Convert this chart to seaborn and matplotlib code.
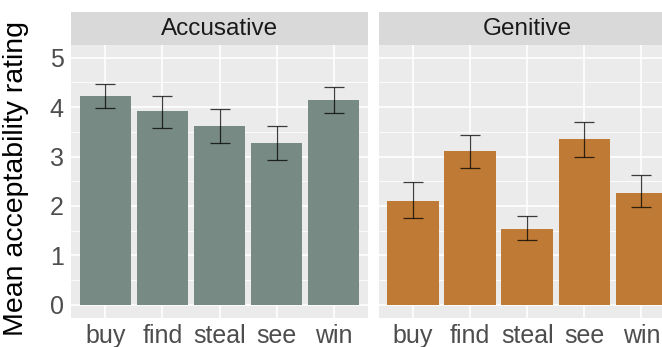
import matplotlib
matplotlib.use("Agg")
import matplotlib.pyplot as plt
from matplotlib.ticker import MultipleLocator
import seaborn as sns
import pandas as pd

# Mean ratings and error-bar limits per verb and case
verbs = ["buy", "find", "steal", "see", "win"]
acc_mean = [4.23, 3.92, 3.62, 3.27, 4.14]
acc_low = [3.99, 3.58, 3.28, 2.92, 3.87]
acc_high = [4.46, 4.23, 3.95, 3.62, 4.40]
gen_mean = [2.11, 3.11, 1.53, 3.35, 2.27]
gen_low = [1.75, 2.76, 1.31, 2.98, 1.97]
gen_high = [2.48, 3.43, 1.80, 3.69, 2.63]
panels = ["Accusative", "Genitive"]
panel_colors = ["#778A83", "#BF7B36"]
y_ticks = [0, 1, 2, 3, 4, 5]

sns.set_theme(style="darkgrid")
plt.rcParams["font.family"] = ["Liberation Sans", "DejaVu Sans"]

W, H = 662, 347
fig = plt.figure(figsize=(W / 100, H / 100), dpi=100)
fig.patch.set_facecolor("white")

panel_w = 297
plot_top, plot_bot = 44.5, 318
strip_top = 12
lefts = [71, 378.7]

series = [
    (acc_mean, acc_low, acc_high),
    (gen_mean, gen_low, gen_high),
]

for i, (name, color, (m, lo, hi)) in enumerate(zip(panels, panel_colors, series)):
    left = lefts[i]
    ax = fig.add_axes([left / W, (H - plot_bot) / H, panel_w / W, (plot_bot - plot_top) / H])
    df = pd.DataFrame({"verb": verbs, "mean": m, "low": lo, "high": hi})
    sns.barplot(data=df, x="verb", y="mean", color=color, saturation=1,
                width=0.9, errorbar=None, ax=ax, zorder=2)
    for p in ax.patches:
        p.set_edgecolor("none")
    xs = range(len(verbs))
    ax.errorbar(xs, df["mean"],
                yerr=[df["mean"] - df["low"], df["high"] - df["mean"]],
                fmt="none", ecolor="#000000", alpha=0.75, elinewidth=0.9,
                capsize=7.5, capthick=0.9, zorder=3)
    ax.set_xlim(-0.6, len(verbs) - 0.4)
    ax.set_ylim(-0.263, 5.263)
    ax.set_facecolor("#EBEBEB")
    ax.yaxis.set_major_locator(MultipleLocator(1))
    ax.yaxis.set_minor_locator(MultipleLocator(0.5))
    ax.grid(which="major", color="white", linewidth=1.2, zorder=0)
    ax.grid(which="minor", axis="y", color="white", linewidth=0.6, zorder=0)
    ax.set_axisbelow(True)
    for s in ax.spines.values():
        s.set_visible(False)
    ax.set_xlabel("")
    ax.tick_params(axis="both", which="major", length=3.3, width=0.9,
                   color="#333333", labelcolor="#4D4D4D", labelsize=18, pad=2)
    ax.tick_params(axis="y", which="minor", length=0)
    ax.tick_params(axis="x", pad=1)
    if i == 0:
        ax.set_yticks(y_ticks)
        ax.set_ylabel("Mean acceptability rating", fontsize=20.5, color="black")
        ax.yaxis.set_label_coords(-0.14, 0.51)
    else:
        ax.set_yticks(y_ticks)
        ax.set_yticklabels([])
        ax.tick_params(axis="y", length=0)
        ax.set_ylabel("")

    # facet strip
    sax = fig.add_axes([left / W, (H - plot_top) / H, panel_w / W, (plot_top - strip_top) / H])
    sax.set_facecolor("#D9D9D9")
    sax.set_xticks([])
    sax.set_yticks([])
    for s in sax.spines.values():
        s.set_visible(False)
    sax.text(0.5, 0.47, name, ha="center", va="center", fontsize=17.5,
             color="#1A1A1A", transform=sax.transAxes)

fig.savefig("out.png", dpi=100)
